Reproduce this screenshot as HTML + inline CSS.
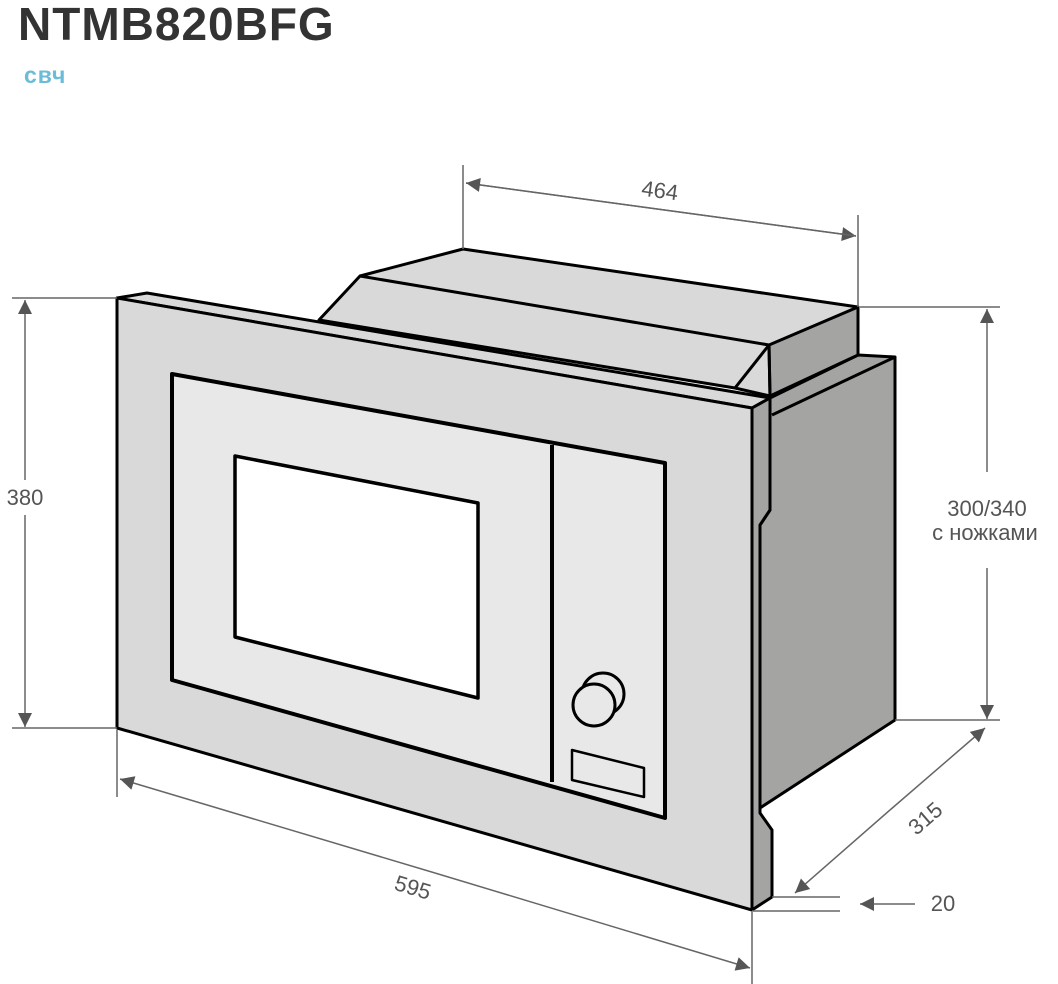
<!DOCTYPE html>
<html><head><meta charset="utf-8"><style>
html,body{margin:0;padding:0;background:#fff;width:1058px;height:984px;overflow:hidden}
svg{display:block}
text{font-family:"Liberation Sans",sans-serif;fill:#555}
</style></head><body>
<svg width="1058" height="984" viewBox="0 0 1058 984" xmlns="http://www.w3.org/2000/svg">
<defs><marker id="a" viewBox="0 0 10 10" refX="10" refY="5" markerWidth="18" markerHeight="14" markerUnits="userSpaceOnUse" orient="auto"><path d="M0,0L10,5L0,10z" fill="#555"/></marker></defs>
<text x="18" y="40" style="font-size:46px;fill:#333;font-weight:bold;letter-spacing:1px">NTMB820BFG</text>
<text x="24" y="83" style="font-size:23px;fill:#6bbcd6;font-weight:bold;letter-spacing:1px">свч</text>

<g stroke="#000" stroke-width="3" stroke-linejoin="round">
<polygon points="770,398 858,355 895,357 895,720 760,808 760,525 770,510" fill="#a4a5a3"/>
<line x1="772" y1="415" x2="895" y2="357"/>
<polygon points="463,249 858,307 858,355 770,396 735,388 319,320 360,276" fill="#d9d9d9"/>
<polygon points="769,345 858,307 858,355 770,396" fill="#a4a5a3"/>
<polyline points="360,276 769,345 735,388" fill="none"/>
<line x1="769" y1="345" x2="770" y2="396"/>
<polygon points="117,298 147,293 770,398 752,408" fill="#d9d9d9"/>
<polygon points="752,408 770,398 770,510 760,525 760,813 772,830 772,897 752,910" fill="#a4a5a3"/>
<polygon points="117,298 752,408 752,910 117,728" fill="#d9d9d9"/>
</g>
<g stroke="#000" stroke-linejoin="round">
<polygon points="172,374 665,463 665,818 172,680" fill="#e8e8e8" stroke-width="4"/>
<line x1="552" y1="445" x2="552" y2="782" stroke-width="4"/>
<polygon points="235,456 478,503 478,698 235,637" fill="#fff" stroke-width="3.5"/>
<circle cx="603" cy="694" r="21" fill="#e8e8e8" stroke-width="3"/>
<circle cx="594" cy="705" r="21" fill="#e8e8e8" stroke-width="3"/>
<polygon points="572,750 644,768 644,797 572,780" fill="#e8e8e8" stroke-width="2.5"/>
</g>

<g stroke="#666" stroke-width="1.5" fill="none">
<line x1="463" y1="165" x2="463" y2="249"/>
<line x1="858" y1="215" x2="858" y2="307"/>
<line x1="466" y1="183" x2="856" y2="236" marker-end="url(#a)"/>
<line x1="856" y1="236" x2="466" y2="183" marker-end="url(#a)"/>
<line x1="12" y1="298" x2="117" y2="298"/>
<line x1="12" y1="728" x2="117" y2="728"/>
<line x1="25" y1="480" x2="25" y2="300" marker-end="url(#a)"/>
<line x1="25" y1="515" x2="25" y2="727" marker-end="url(#a)"/>
<line x1="860" y1="307" x2="1000" y2="307"/>
<line x1="895" y1="720" x2="1000" y2="720"/>
<line x1="987" y1="472" x2="987" y2="309" marker-end="url(#a)"/>
<line x1="987" y1="568" x2="987" y2="719" marker-end="url(#a)"/>
<line x1="117" y1="730" x2="117" y2="797"/>
<line x1="752" y1="912" x2="752" y2="984"/>
<line x1="435" y1="873" x2="120" y2="779" marker-end="url(#a)"/>
<line x1="435" y1="873" x2="750" y2="968" marker-end="url(#a)"/>
<line x1="890" y1="810" x2="985" y2="728" marker-end="url(#a)"/>
<line x1="890" y1="810" x2="795" y2="893" marker-end="url(#a)"/>
<line x1="772" y1="897" x2="840" y2="897"/>
<line x1="752" y1="911" x2="840" y2="911"/>
<line x1="915" y1="904" x2="860" y2="904" marker-end="url(#a)"/>
</g>
<text x="660" y="198" text-anchor="middle" transform="rotate(7.6 660 190)" style="font-size:22px">464</text>
<text x="25" y="505" text-anchor="middle" style="font-size:22px">380</text>
<text x="987" y="516" text-anchor="middle" style="font-size:22px">300/340</text>
<text x="985" y="540" text-anchor="middle" style="font-size:22px">с ножками</text>
<text x="413" y="895" text-anchor="middle" transform="rotate(16.7 413 887)" style="font-size:22px">595</text>
<text x="925" y="826" text-anchor="middle" transform="rotate(-41 925 818)" style="font-size:22px">315</text>
<text x="943" y="911" text-anchor="middle" style="font-size:22px">20</text>
</svg>
</body></html>
